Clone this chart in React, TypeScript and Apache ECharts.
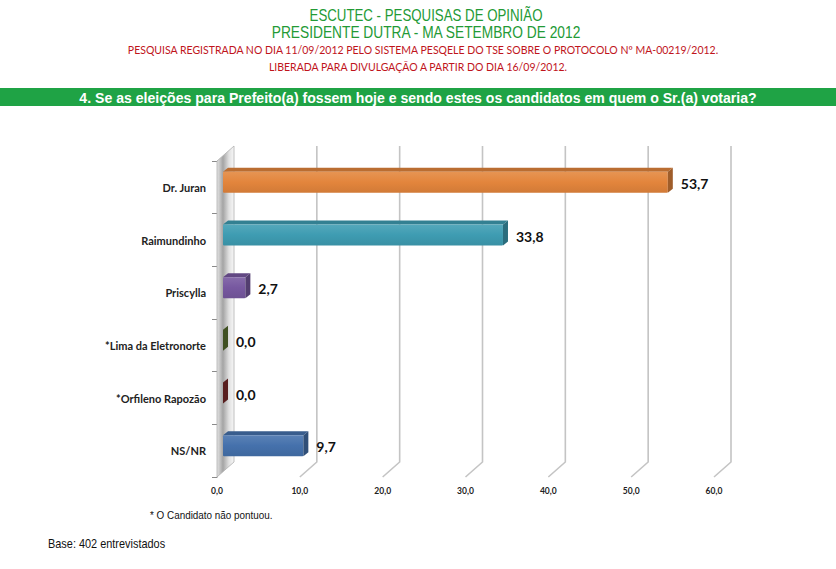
import React, { useEffect, useRef } from "react";
import * as echarts from "echarts";

const candidates = [
  "Dr. Juran",
  "Raimundinho",
  "Priscylla",
  "*Lima da Eletronorte",
  "*Orfileno Rapozão",
  "NS/NR",
];
const votes = [53.7, 33.8, 2.7, 0.0, 0.0, 9.7];
const barColors = ["#E3853C", "#3E9CB2", "#7758A0", "#5B7430", "#7E2B2B", "#4571AC"];
const xTicks = [0, 10, 20, 30, 40, 50, 60];

const GREEN = "#239a35";
const RED = "#c0141b";
const DX = 17; // back wall depth
const DY = -15;

// lighten (f>0) or darken (f<0) a hex colour
const shade = (hex: string, f: number) => {
  const n = parseInt(hex.slice(1), 16);
  const ch = [(n >> 16) & 255, (n >> 8) & 255, n & 255].map((c) =>
    Math.round(f >= 0 ? c + (255 - c) * f : c * (1 + f))
  );
  return "rgb(" + ch.join(",") + ")";
};

const fmt = (v: number) => v.toFixed(1).replace(".", ",");

// squeezed Arial, to look like Arial Narrow
const narrowText = (
  text: string,
  x: number,
  y: number,
  size: number,
  color: string,
  scale: number,
  align = "center",
  bold = false
) => ({
  type: "text",
  x,
  y,
  scaleX: scale,
  style: {
    x: 0,
    y: 0,
    text,
    fontSize: size,
    fontFamily: "Liberation Sans",
    fontWeight: bold ? "bold" : "normal",
    fill: color,
    textAlign: align,
    textVerticalAlign: "middle",
  },
});

const calibriText = (text: string, x: number, y: number) => ({
  type: "text",
  x,
  y,
  style: {
    x: 0,
    y: 0,
    text,
    fontSize: 10.5,
    fontFamily: "Lato",
    fill: RED,
    textAlign: "center",
    textVerticalAlign: "middle",
  },
});

const App = () => {
  const chartRef = useRef<HTMLDivElement>(null);

  useEffect(() => {
    const chart = echarts.init(chartRef.current, null, { renderer: "svg" });
    const n = candidates.length;

    // walls and gridlines, drawn from the axis scale
    const renderGrid = (_params: any, api: any) => {
      const t = api.value(0);
      const band = api.size([0, 1])[1];
      const top = api.coord([t, 0]);
      const bot = api.coord([t, n - 1]);
      const x = top[0];
      const yTop = top[1] - band / 2;
      const yBot = bot[1] + band / 2;
      if (t === 0) {
        return {
          type: "polygon",
          shape: {
            points: [
              [x, yTop],
              [x + DX, yTop + DY],
              [x + DX, yBot + DY],
              [x, yBot],
            ],
          },
          style: {
            fill: {
              type: "linear",
              x: 0,
              y: 0,
              x2: 1,
              y2: 0,
              colorStops: [
                { offset: 0, color: "#e4e4e4" },
                { offset: 0.35, color: "#a4a4a4" },
                { offset: 0.7, color: "#e0e0e0" },
                { offset: 1, color: "#f7f7f7" },
              ],
            },
            stroke: "#b0b0b0",
            lineWidth: 0.8,
          },
        };
      }
      return {
        type: "polyline",
        shape: {
          points: [
            [x + DX, yTop + DY],
            [x + DX, yBot + DY],
            [x, yBot],
          ],
        },
        style: { stroke: "#c4c4c4", lineWidth: 1.6, fill: "none" },
      };
    };

    const renderBar = (params: any, api: any) => {
      const v = api.value(0);
      const c = api.value(1);
      const start = api.coord([0, c]);
      const end = api.coord([v, c]);
      const h = 21;
      const cy = start[1] - 5;
      const x0 = start[0] + 6;
      const x1 = end[0] + 6;
      const y0 = cy - h / 2;
      const y1 = cy + h / 2;
      const dx = 5;
      const dy = -4;
      const col = barColors[params.dataIndex];
      const children: any[] = [];
      if (x1 - x0 > 0.5) {
        children.push({
          type: "polygon",
          shape: { points: [[x0, y0], [x0 + dx, y0 + dy], [x1 + dx, y0 + dy], [x1, y0]] },
          style: { fill: shade(col, -0.18) },
        });
        children.push({
          type: "rect",
          shape: { x: x0, y: y0, width: x1 - x0, height: h, r: 1 },
          style: {
            fill: {
              type: "linear",
              x: 0,
              y: 0,
              x2: 0,
              y2: 1,
              colorStops: [
                { offset: 0, color: shade(col, 0.12) },
                { offset: 0.5, color: col },
                { offset: 1, color: shade(col, -0.08) },
              ],
            },
          },
        });
      }
      children.push({
        type: "polygon",
        shape: { points: [[x1, y0], [x1 + dx, y0 + dy], [x1 + dx, y1 + dy], [x1, y1]] },
        style: { fill: shade(col, -0.3) },
      });
      children.push({
        type: "text",
        style: {
          x: x1 + 13,
          y: cy + 1,
          text: fmt(v),
          fontSize: 14,
          fontWeight: "bold",
          fontFamily: "Lato",
          fill: "#111",
          verticalAlign: "middle",
        },
      });
      return { type: "group", children };
    };

    chart.setOption({
      animation: false,
      backgroundColor: "#ffffff",
      grid: { left: 217, right: 122, top: 161, bottom: 92 },
      xAxis: {
        type: "value",
        min: 0,
        max: 60,
        interval: 10,
        axisLine: { show: false },
        axisTick: { show: false },
        splitLine: { show: false },
        axisLabel: {
          formatter: (v: number) => fmt(v),
          fontSize: 8.5,
          fontWeight: "bold",
          fontFamily: "Lato",
          color: "#222",
          margin: 9,
        },
      },
      yAxis: {
        type: "category",
        inverse: true,
        data: candidates,
        axisLine: { show: true, lineStyle: { color: "#8a8a8a", width: 1 } },
        axisTick: { show: true, length: 5, lineStyle: { color: "#8a8a8a" } },
        axisLabel: {
          fontSize: 11,
          fontWeight: "bold",
          fontFamily: "Lato",
          color: "#222",
          margin: 11,
        },
      },
      series: [
        {
          type: "custom",
          renderItem: renderGrid,
          data: xTicks.map((t) => [t, 0]),
          encode: { x: 0, y: 1 },
          silent: true,
          z: 1,
        },
        {
          type: "custom",
          renderItem: renderBar,
          data: votes.map((v, i) => [v, i]),
          encode: { x: 0, y: 1 },
          z: 2,
        },
      ],
      graphic: [
        narrowText("ESCUTEC - PESQUISAS DE OPINIÃO", 426, 16, 16, GREEN, 0.83),
        narrowText("PRESIDENTE DUTRA - MA SETEMBRO DE 2012", 426, 32.5, 16, GREEN, 0.86),
        calibriText(
          "PESQUISA REGISTRADA NO DIA 11/09/2012 PELO SISTEMA PESQELE DO TSE SOBRE O PROTOCOLO Nº MA-00219/2012.",
          423,
          50
        ),
        calibriText("LIBERADA PARA DIVULGAÇÃO A PARTIR DO DIA 16/09/2012.", 418, 67),
        {
          type: "rect",
          shape: { x: 0, y: 88, width: 836, height: 18 },
          style: { fill: "#1fa345" },
        },
        narrowText(
          "4. Se as eleições para Prefeito(a) fossem hoje e sendo estes os candidatos em quem o Sr.(a) votaria?",
          418,
          97.5,
          15,
          "#ffffff",
          0.94,
          "center",
          true
        ),
        narrowText("* O Candidato não pontuou.", 150, 515, 11, "#111", 0.9, "left"),
        narrowText("Base: 402 entrevistados", 48, 544, 12, "#111", 0.91, "left"),
      ],
    });

    return () => {
      chart.dispose();
    };
  }, []);

  return (
    <div
      ref={chartRef}
      style={{ position: "fixed", left: 0, top: 0, width: "836px", height: "569px" }}
    ></div>
  );
};

export default App;
